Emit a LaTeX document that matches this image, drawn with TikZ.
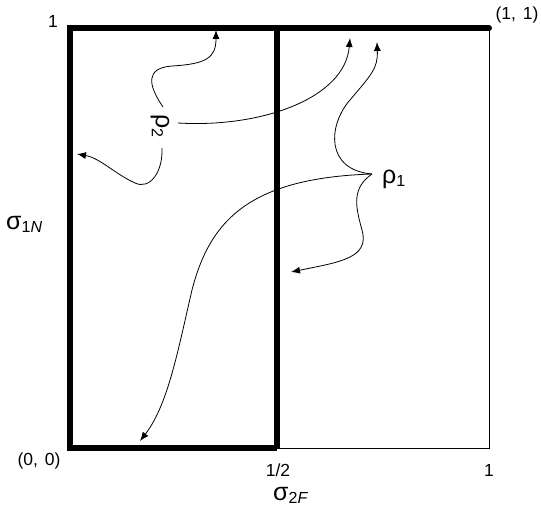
\documentclass[tikz,border=0pt]{standalone}
\usepackage{fontspec}
\setmainfont{Liberation Sans}
\usetikzlibrary{arrows.meta}
\tikzset{
  thickedge/.style={line width=6pt, line join=miter},
  thinedge/.style={line width=1pt},
  flow/.style={line width=0.8pt, -{Latex[length=9pt,width=7pt]}},
  lbl/.style={inner sep=0pt, font=\fontsize{17.5}{17.5}\selectfont},
  greek/.style={inner sep=0pt, font=\fontsize{25}{25}\selectfont},
}
\newcommand{\subsz}[1]{\raisebox{-0.3ex}{\fontsize{16}{16}\selectfont #1}}
\begin{document}
\begin{tikzpicture}[x=1pt,y=-1pt]
\useasboundingbox (0,0) rectangle (541,516);
% corners
\coordinate (O) at (70,448);
\coordinate (H) at (277,448);
\coordinate (R) at (489,448);
\coordinate (TL) at (70,28);
\coordinate (TH) at (277,28);
\coordinate (TR) at (489,28);
% thin edges
\draw[thinedge] (H) -- (R) -- (TR);
% thick edges
\draw[thickedge] (H) -- (O) -- (TL) -- (TR);
\draw[thickedge, line cap=round] (TL) -- (TR);
\draw[thickedge] (TH) -- (H);
% labels
\node[lbl] (one) at (53,21) {1};
\node[lbl] (oneone) at (517,15) {(1,\hspace{2pt} 1)};
\node[lbl] (zero) at (39,461) {(0,\hspace{2pt} 0)};
\node[lbl] (half) at (278,470) {1/2};
\node[lbl] (oneb) at (489,470) {1};
\node[greek, anchor=base west] (s2f) at (273,500) {σ\subsz{2\textit{F}}};
\node[greek, anchor=base west] (s1n) at (6,229) {σ\subsz{1\textit{N}}};
\node[greek, anchor=base west] (r1) at (382,183) {ρ\subsz{1}};
\node[greek, rotate=-90] (r2) at (160,126) {ρ\subsz{2}};
% connector ends
\coordinate (r2top) at (163,107);
\coordinate (r2right) at (178,123);
\coordinate (r2bot) at (162,148);
\coordinate (r1s) at (372,174);
\coordinate (a1) at (216,30);
\coordinate (a2) at (350,38);
\coordinate (a3) at (77,154);
\coordinate (a4) at (377,42);
\coordinate (a5) at (140,441);
\coordinate (a6) at (291,272);
% rho2 connectors
\draw[flow] (r2top) .. controls (148,85) and (145,68) .. (172,66)
  .. controls (206,64) and (216,58) .. (a1);
\draw[flow] (r2right) .. controls (262,128) and (345,98) .. (a2);
\draw[flow] (r2bot) .. controls (163,172) and (150,190) .. (135,183)
  .. controls (115,174) and (100,158) .. (a3);
% rho1 connectors
\draw[flow] (r1s) .. controls (325,170) and (328,125) .. (350,100)
  .. controls (372,74) and (378,68) .. (a4);
\draw[flow] (r1s) .. controls (250,178) and (210,220) .. (192,290)
  .. controls (178,350) and (168,405) .. (a5);
\draw[flow] (r1s) .. controls (352,188) and (355,205) .. (362,230)
  .. controls (370,258) and (340,262) .. (a6);
\end{tikzpicture}
\end{document}
